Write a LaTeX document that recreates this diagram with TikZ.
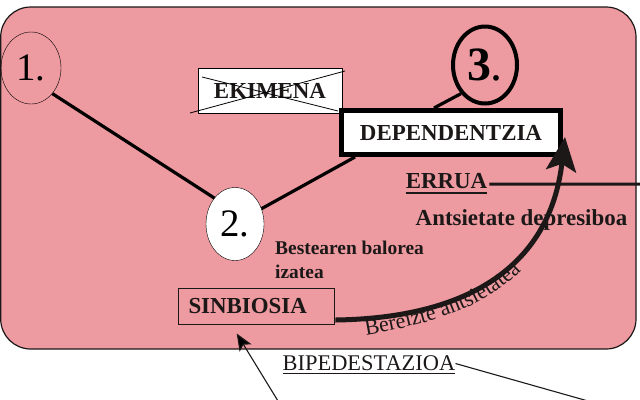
\documentclass[tikz,border=0pt]{standalone}
\usepackage{fontspec}
\setmainfont{Liberation Serif}
\usetikzlibrary{shapes.geometric,arrows.meta,decorations.text}
\definecolor{rosebg}{RGB}{237,154,160}
\definecolor{inkdark}{RGB}{28,24,24}

\begin{document}
\begin{tikzpicture} [x=1bp, y=-1bp]
\tikzstyle{stage}=[draw, shape=ellipse, inner sep=0pt, font=\fontsize{39}{39}\selectfont];
\tikzstyle{word}=[inner sep=0pt, text=inkdark, font=\bfseries\fontsize{23}{25}\selectfont];
\tikzstyle{link}=[line width=3.2bp];
\tikzstyle{thin}=[line width=1.1bp, draw=inkdark];
\useasboundingbox (0,0) rectangle (640,399);
\draw [fill=rosebg, draw=inkdark, line width=1.2bp, rounded corners=30bp] (0.7,7) rectangle (636,349);
\node [stage, minimum width=60bp, minimum height=72bp] (s1) at (31,68) {1.};
\node [stage, fill=white, minimum width=58bp, minimum height=73bp] (s2) at (235,224) {2.};
\node [stage, line width=4bp, minimum width=64bp, minimum height=77bp, font=\fontsize{48}{48}\selectfont] (s3) at (485,65) {\textbf{3}.};
\node [word, draw=black, fill=white, line width=0.9bp, minimum width=144bp, minimum height=45bp] (ekimena) at (270,90.5) {EKIMENA};
\draw [line width=0.8bp] (190,113) -- (345,71) % crossed out
(202,77) -- (338,111);
\node [word, draw=black, fill=white, line width=5bp, minimum width=219bp, minimum height=44bp] (dep) at (451,132.5) {DEPENDENTZIA};
\draw [link] (s1.south east) -- (s2.north west)
(s2.30) -- ([xshift=16bp]dep.south west)
(s3.south west) -- ([xshift=-17bp]dep.north);
\node [word, draw=inkdark, line width=1bp, inner xsep=10bp, minimum height=36bp, anchor=west] (sinbio) at (178,306) {SINBIOSIA\hspace*{18bp}};
\node [word, font=\bfseries\fontsize{19.5}{24}\selectfont, align=left, anchor=north west] (balore) at (275,241) {Bestearen balorea\\izatea};
\node [word] (antsi) at (521.5,220) {Antsietate depresiboa};
\node [word] (errua) at (446.5,181.5) {ERRUA};
\node [inner sep=0pt, text=inkdark, font=\fontsize{22.5}{24}\selectfont] (bipe) at (369,363.5) {BIPEDESTAZIOA};
\coordinate (rimE) at (641,184);
\coordinate (ground1) at (278,401);
\coordinate (ground2) at (588,401);
% curved arrow
\draw [line width=5bp, draw=inkdark, -{Stealth[length=34bp, width=30bp, inset=7bp]}] ([yshift=-14bp]sinbio.east) .. controls (470,318) and (550,265) .. ([shift={(2bp,20bp)}]dep.south east);
\path [decorate, decoration={text along path, text align=left, text color=inkdark, text={|\fontsize{22}{22}\selectfont|Bereizte antsietatea}}] (366,335) .. controls (440,322) and (495,305) .. (535,255);
\draw [line width=3bp, draw=inkdark] ([shift={(2bp,-2.5bp)}]errua.east) -- (rimE);
\draw [line width=2bp, draw=inkdark] ([yshift=-3.5bp]errua.south west) -- ([yshift=-3.5bp]errua.south east);
\draw [line width=1.3bp, draw=inkdark] ([yshift=-2bp]bipe.south west) -- ([yshift=-2bp]bipe.south east);
\draw [thin, -{Stealth[length=17bp, width=14bp, inset=4bp]}] (ground1) -- ([shift={(-20bp,-9bp)}]sinbio.south);
\draw [thin] (bipe.east) -- (ground2);
\end{tikzpicture}
\end{document}
